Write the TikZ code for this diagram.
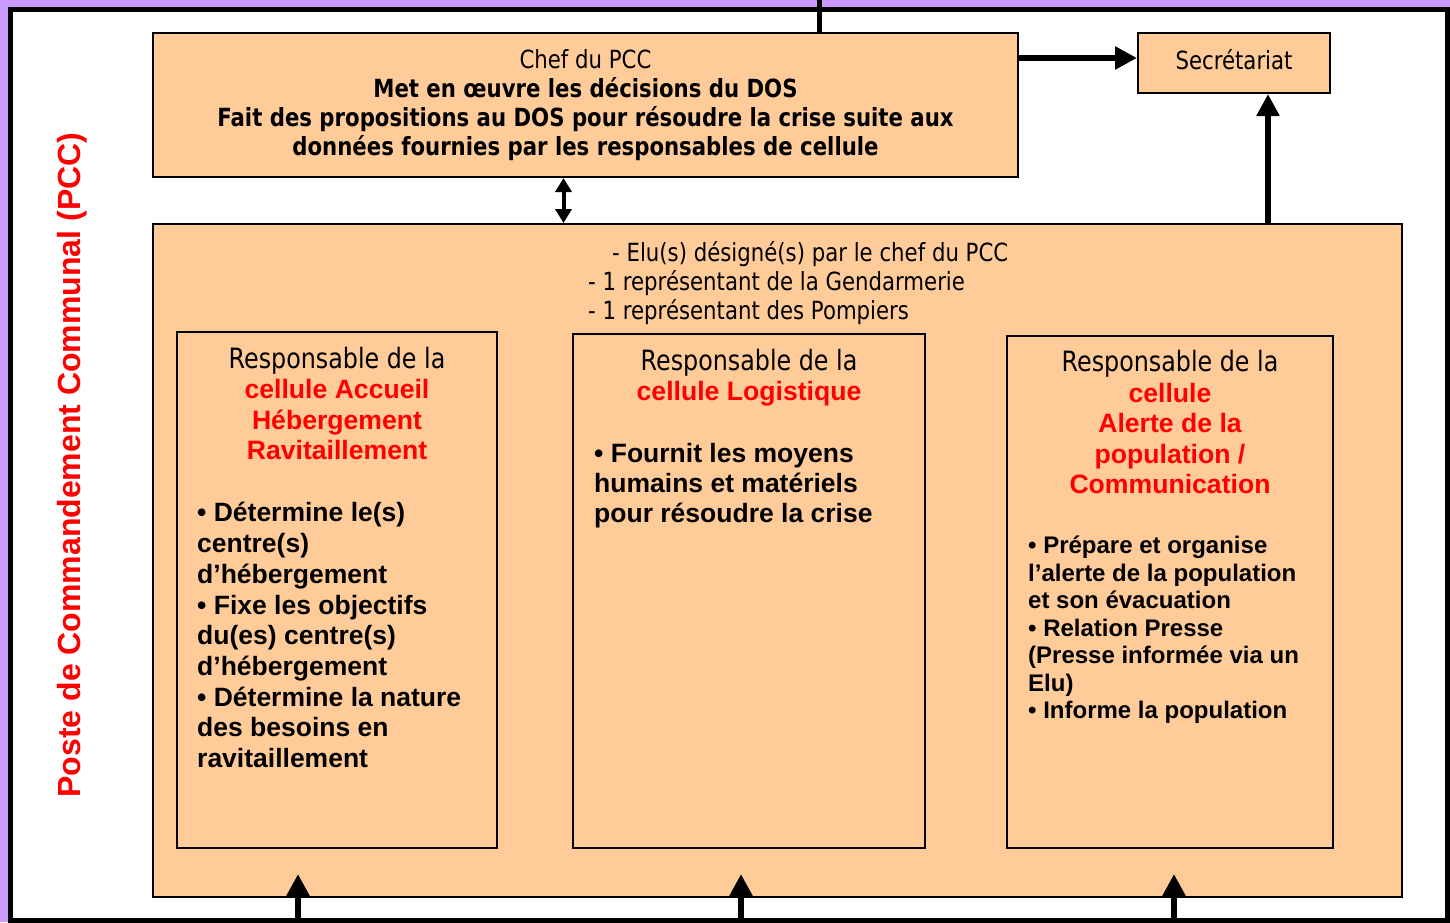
\documentclass[tikz,border=0pt]{standalone}
\usepackage{fontspec}
\setmainfont{Liberation Sans}
\newfontfamily\tah[FakeStretch=0.85]{DejaVu Sans}
\newfontfamily\arl{Liberation Sans}
\usetikzlibrary{arrows.meta}
\definecolor{peach}{HTML}{FFCC99}
\definecolor{lilac}{HTML}{CC99FF}
\newcommand{\cel}[1]{{\arl\bfseries\fontsize{26.6}{30.5}\selectfont\color{red}#1}}

\begin{document}
\begin{tikzpicture}[x=1pt, y=-1pt,
    box/.style={draw, line width=2pt, fill=peach, inner sep=0pt},
    title/.style={anchor=base, align=center, inner sep=0pt, font=\tah\fontsize{28}{30.5}\selectfont},
    points/.style={anchor=base west, align=left, inner sep=0pt, font=\arl\bfseries\fontsize{26.5}{30.7}\selectfont},
    small/.style={anchor=base, align=center, inner sep=0pt, font=\tah\fontsize{25}{29}\selectfont}]

\useasboundingbox (0,0) rectangle (1450,922);
\fill[lilac] (0,0) rectangle (1450,922);
\draw[line width=5pt, fill=white] (10,9) rectangle (1447,920);

\begin{scope}[every node/.style={box}]
    \node[minimum width=865, minimum height=144] (chef) at (585.5,105) {};
    \node[minimum width=192, minimum height=60] (secr) at (1234,63) {};
    \node[minimum width=1249, minimum height=673] (big) at (777.5,560.5) {};
    \node[minimum width=320, minimum height=516] (cellA) at (337,590) {};
    \node[minimum width=352, minimum height=514] (cellL) at (749,591) {};
    \node[minimum width=326, minimum height=512] (cellC) at (1170,592) {};
\end{scope}

\node[rotate=90, text=red, inner sep=0pt, font=\arl\bfseries\fontsize{32}{38}\selectfont] (pcc) at (72,465) {Poste de Commandement Communal (PCC)};

\node[small] (cheftxt) at (585.5,155) {Chef du PCC\\
    \textbf{Met en œuvre les décisions du DOS}\\
    \textbf{Fait des propositions au DOS pour résoudre la crise suite aux}\\
    \textbf{données fournies par les responsables de cellule}};
\node[small] (secrtxt) at (1234,69) {Secrétariat};
\node[small, anchor=base west, align=left] (membres) at (588,319) {\hspace{24pt}- Elu(s) désigné(s) par le chef du PCC\\
    - 1 représentant de la Gendarmerie\\
    - 1 représentant des Pompiers};

\node[title] (titleA) at (337,459.5) {Responsable de la\\ \cel{cellule Accueil}\\ \cel{Hébergement}\\ \cel{Ravitaillement}};
\node[points] (pointsA) at (197,767.5) {• Détermine le(s)\\ centre(s)\\ d’hébergement\\
    • Fixe les objectifs\\ du(es) centre(s)\\ d’hébergement\\
    • Détermine la nature\\ des besoins en\\ ravitaillement};

\node[title] (titleL) at (749,400.5) {Responsable de la\\ \cel{cellule Logistique}};
\node[points, font=\arl\bfseries\fontsize{26.5}{30}\selectfont] (pointsL) at (594,522.5) {• Fournit les moyens\\ humains et matériels\\ pour résoudre la crise};

\node[title] (titleC) at (1170,493.5) {Responsable de la\\ \cel{cellule}\\ \cel{Alerte de la}\\ \cel{population /}\\ \cel{Communication}};
\node[points, font=\arl\bfseries\fontsize{24}{27.5}\selectfont] (pointsC) at (1028,718.6) {• Prépare et organise\\ l’alerte de la population\\ et son évacuation\\
    • Relation Presse\\ (Presse informée via un\\ Elu)\\ • Informe la population};

\coordinate (dos) at (819,0);
\coordinate (in1) at (298,920);
\coordinate (in2) at (741,920);
\coordinate (in3) at (1174,920);

\begin{scope}[line width=6pt, -{Triangle[width=22pt, length=22pt]}]
    \draw ([yshift=5pt]secr.west -| chef.east) -- ([yshift=5pt]secr.west);
    \draw ([xshift=34pt]secr.south |- big.north) -- ([xshift=34pt]secr.south);
    \draw (in1) -- ([yshift=24pt]in1 |- big.south);
    \draw (in2) -- ([yshift=24pt]in2 |- big.south);
    \draw (in3) -- ([yshift=24pt]in3 |- big.south);
\end{scope}

\draw[line width=4pt, {Triangle[width=16pt, length=14pt]}-{Triangle[width=16pt, length=14pt]}] ([xshift=-22pt]chef.south) -- ([xshift=-22pt]chef.south |- big.north);
\draw[line width=5pt] (dos) -- (dos |- chef.north);

\end{tikzpicture}
\end{document}
